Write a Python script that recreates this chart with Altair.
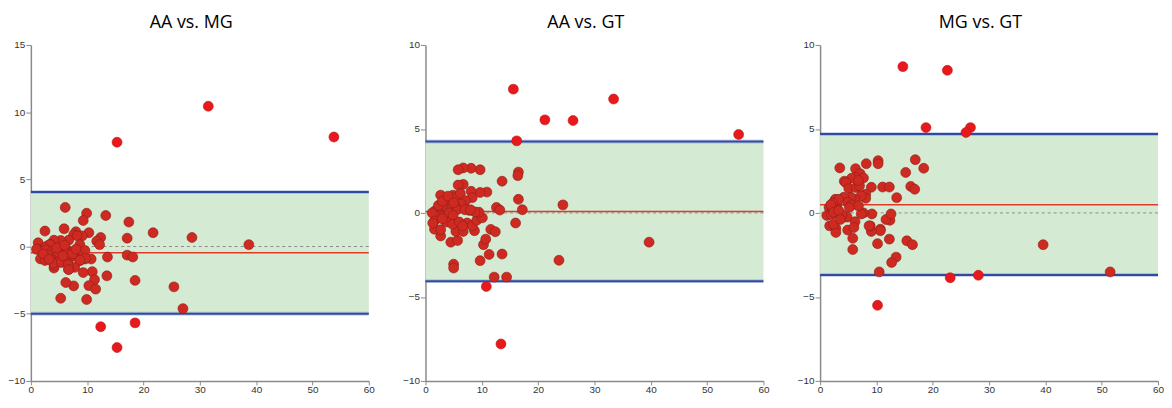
import altair as alt
import pandas as pd

titles = ["AA vs. MG", "AA vs. GT", "MG vs. GT"]
y_domains = [[-10, 15], [-10, 10], [-10, 10]]
y_ticks = [[-10, -5, 0, 5, 10, 15], [-10, -5, 0, 5, 10], [-10, -5, 0, 5, 10]]
x_ticks = [0, 10, 20, 30, 40, 50, 60]
upper = [4.05, 4.25, 4.70]
lower = [-5.00, -4.06, -3.70]
bias = [-0.46, 0.08, 0.49]

p1_x = [15.3, 31.5, 53.8, 12.4, 18.5, 15.3,
        6.1, 9.9, 9.3, 13.3, 17.4, 2.5, 5.9, 10.3, 21.7, 28.6, 38.7, 17.1, 12.4, 11.7,
        12.2, 8.0, 7.6, 9.1, 8.2, 8.7, 6.7, 5.3, 4.1, 1.3, 3.4, 9.6, 13.6, 17.1, 18.1,
        10.7, 9.6, 8.7, 10.9, 9.3, 11.3, 13.5, 18.5, 25.4, 10.3, 11.5, 7.6, 6.2, 5.3,
        9.9, 27.0, 7.8, 6.7, 4.1, 4.2,
        2.9, 3.4, 2.4, 1.2, 1.9, 2.6, 3.7, 5.2, 6.5, 7.4, 8.4, 9.7, 1.7, 2.5, 3.9, 4.0,
        5.3, 5.4, 6.7, 6.6, 7.6, 6.7, 8.7, 4.1, 3.0, 6.3, 4.9, 7.4,
        1.0, 2.2, 3.2, 4.6, 5.7, 6.0, 8.0]
p1_y = [7.76, 10.44, 8.15, -5.97, -5.68, -7.52,
        2.91, 2.48, 1.94, 2.31, 1.82, 1.15, 1.32, 1.03, 1.03, 0.67, 0.14, 0.62, 0.67, 0.40,
        0.14, 1.10, 0.88, 0.79, 0.80, 0.14, 0.47, 0.45, 0.47, 0.28, 0.16, -0.30, -0.78, -0.64, -0.78,
        -0.93, -0.93, -1.05, -1.87, -1.94, -2.47, -2.18, -2.52, -3.00, -2.91, -3.17, -2.93, -2.68, -3.85,
        -3.94, -4.62, -1.55, -1.70, -1.60, -1.41,
        0.04, 0.14, -0.08, -0.20, -0.34, -0.25, -0.39, -0.25, -0.30, -0.39, -0.63, -0.87, -0.92, -1.04, -0.75, -1.24,
        -0.87, -1.19, -0.97, -1.35, -0.68, -1.71, -1.02, -0.48, -0.63, -0.58, -0.44, -0.53,
        -0.20, -0.55, -0.95, -0.10, -0.70, 0.10, -0.20]

p2_x = [15.6, 21.2, 26.2, 33.4, 55.6, 16.2, 39.7, 23.7, 24.4, 13.4, 10.8, 12.2, 14.4, 13.6,
        11.3, 9.7, 5.0, 5.0, 10.3, 10.7, 11.6, 12.4, 16.0, 16.5, 16.4, 13.6, 16.5, 17.2, 12.6,
        13.2, 10.9, 9.7, 9.7, 8.1, 6.7, 5.8, 8.1, 8.3, 6.7, 5.8, 4.5, 5.7, 2.7, 1.6, 2.7, 5.4,
        6.7, 8.7, 7.4, 8.3, 9.1, 10.1, 9.5, 8.8, 7.8,
        2.7, 4.2, 4.9, 5.4, 6.2, 7.1, 6.3, 5.2, 3.9, 3.5, 4.6, 5.6, 7.0, 8.0, 1.6, 2.2, 2.7,
        1.9, 1.2, 3.3, 4.2, 4.9, 3.7, 4.8, 6.0, 6.6, 1.6, 1.3, 3.0, 2.3, 3.0, 4.0, 5.0]
p2_y = [7.37, 5.54, 5.50, 6.78, 4.67, 4.29, -1.74, -2.82, 0.48, -7.80, -4.38, -3.82, -3.82, -2.45,
        -2.47, -2.84, -3.05, -3.28, -1.89, -1.56, -0.98, -1.12, -0.60, 2.43, 2.22, 1.89, 0.81, 0.19, 0.33,
        0.17, 1.24, 1.22, 2.57, 2.66, 2.68, 2.57, 1.29, 0.91, 1.70, 1.66, -1.74, -1.64, -1.37, -0.97, -1.00, -1.10,
        -1.10, -1.06, -0.60, -0.77, -0.44, -0.29, 0.04, 0.06, 0.15,
        1.06, 0.87, 1.06, 0.93, 1.16, 0.73, 0.54, 0.42, 0.58, 0.29, 0.29, 0.19, 0.19, 0.19, 0.10, 0.16, -0.15,
        -0.19, 0.00, -0.19, 0.00, -0.15, -0.54, -0.68, -0.54, -0.77, -0.48, -0.60, -0.35, 0.45, 0.70, 1.00, 0.60]

p3_x = [14.7, 22.6, 18.8, 26.7, 25.9, 10.2, 23.1, 28.1, 51.5, 10.5, 39.6, 13.5, 12.7, 12.3,
        10.2, 15.4, 16.4, 10.7, 10.7, 9.1, 8.9, 8.7, 12.4, 11.7, 12.6, 9.2, 7.7, 7.3, 13.6,
        11.1, 12.3, 9.1, 15.2, 16.1, 16.8, 18.4, 16.9, 10.3, 10.3, 8.2, 3.5, 6.3, 7.1, 7.7,
        6.3, 5.6, 4.3, 4.6, 5.1, 6.4, 7.0, 6.8, 8.1, 8.1, 7.3, 6.2, 5.5, 4.2, 4.9, 5.6, 6.8,
        5.2, 3.0, 2.7, 3.3, 2.2, 1.6, 2.2, 1.2, 2.0, 3.2, 4.1, 4.8, 3.9, 1.7, 2.8, 2.8, 4.9,
        6.2, 6.0, 5.8, 5.8, 2.4, 1.9, 2.4, 3.3, 3.6]
p3_y = [8.71, 8.49, 5.08, 5.08, 4.79, -5.50, -3.86, -3.71, -3.51, -3.51, -1.89, -2.63, -2.95, -1.56,
        -1.83, -1.66, -1.89, -0.97, -1.06, -1.10, -0.77, -0.77, -0.44, -0.39, -0.06, -0.06, 0.00, -0.06, 0.91,
        1.54, 1.54, 1.53, 2.41, 1.58, 1.41, 2.66, 3.17, 3.11, 2.93, 2.93, 2.68, 2.63, 2.34, 2.08,
        2.10, 2.07, 1.89, 1.80, 1.45, 1.51, 1.62, 1.93, 1.12, 0.87, 1.02, 0.81, 0.93, 0.93, 0.62, 0.48, 0.42,
        0.33, 0.48, 0.81, 0.81, 0.58, 0.33, 0.25, -0.15, -0.10, -0.04, -0.25, -0.25, -0.10, -0.77, -0.91, -1.16, -1.02,
        -0.52, -0.87, -1.51, -2.18, -0.68, 0.48, 0.04, 0.14, -0.39]

xs_all = [p1_x, p2_x, p3_x]
ys_all = [p1_y, p2_y, p3_y]


def make_axis(vals, tick, pad):
    return alt.Axis(values=vals, grid=False, domainColor="#8a8a8a", domainWidth=1.5,
                    tickColor="#8a8a8a", tickWidth=1, tickSize=tick, labelPadding=pad,
                    labelColor="#333333", labelFont="Liberation Sans", labelFontSize=10,
                    title=None, labelFlush=False)


def panel(i):
    df = pd.DataFrame({"x": xs_all[i], "y": ys_all[i]})
    df["inside"] = (df["y"] <= upper[i]) & (df["y"] >= lower[i])
    xsc = alt.Scale(domain=[0, 60], nice=False, zero=False)
    ysc = alt.Scale(domain=y_domains[i], nice=False, zero=False)

    band_df = pd.DataFrame({"x0": [0], "x1": [60], "lo": [lower[i]], "hi": [upper[i]]})
    band = alt.Chart(band_df).mark_rect(color="#d5ead3").encode(
        x=alt.X("x0:Q", scale=xsc, axis=make_axis(x_ticks, 4, 0)),
        x2="x1:Q",
        y=alt.Y("lo:Q", scale=ysc, axis=make_axis(y_ticks[i], 5, 1)),
        y2="hi:Q",
    )
    zero = alt.Chart(pd.DataFrame({"v": [0]})).mark_rule(
        color="#8c8c8c", strokeDash=[3, 3], strokeWidth=1
    ).encode(y=alt.Y("v:Q", scale=ysc))
    lim_df = pd.DataFrame({"v": [lower[i], upper[i]]})
    halo = alt.Chart(lim_df).mark_rule(color="#3a55b0", strokeWidth=4, opacity=0.25).encode(
        y=alt.Y("v:Q", scale=ysc))
    lims = alt.Chart(lim_df).mark_rule(color="#2f4aa5", strokeWidth=2).encode(
        y=alt.Y("v:Q", scale=ysc))
    mean = alt.Chart(pd.DataFrame({"v": [bias[i]]})).mark_rule(
        color="#dd3a2a", strokeWidth=1.5).encode(y=alt.Y("v:Q", scale=ysc))
    pts = alt.Chart(df).mark_circle(size=100, opacity=1, strokeWidth=0.6).encode(
        x=alt.X("x:Q", scale=xsc),
        y=alt.Y("y:Q", scale=ysc),
        fill=alt.condition("datum.inside", alt.value("#cf2a22"), alt.value("#e8191c")),
        stroke=alt.condition("datum.inside", alt.value("#8c1c16"), alt.value("#c01414")),
    )
    return alt.layer(band, zero, mean, halo, lims, pts).properties(
        width=340, height=338,
        title=alt.TitleParams(titles[i], fontSize=18, font="Open Sans", fontWeight="normal",
                              color="#000000", anchor="middle", frame="bounds", offset=8),
    )


chart = alt.hconcat(
    panel(0), panel(1), panel(2), spacing=28,
    padding={"left": 0, "top": 5, "right": 0, "bottom": 0},
).configure_view(stroke=None)
chart.save("out.html", embed_options={"renderer": "svg", "actions": False})
